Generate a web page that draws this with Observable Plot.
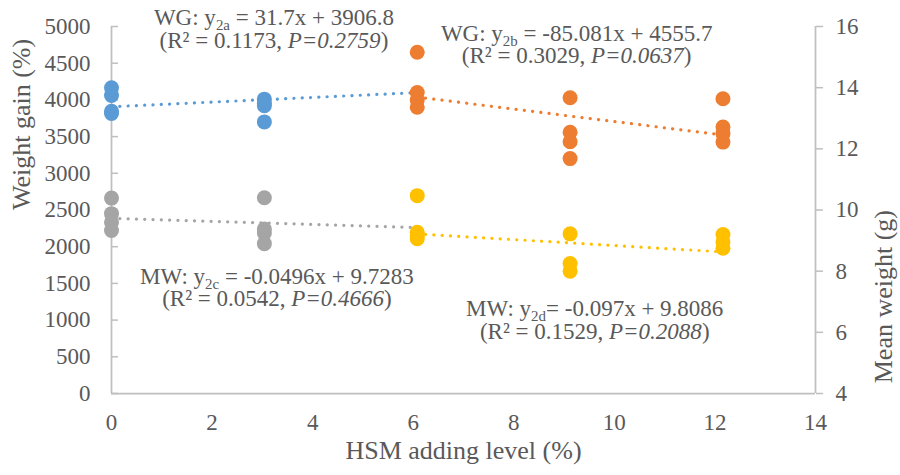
<!DOCTYPE html>
<html>
<head>
<meta charset="utf-8">
<script src="https://cdn.jsdelivr.net/npm/d3@7"></script>
<script src="https://cdn.jsdelivr.net/npm/@observablehq/plot@0.6"></script>
<style>
  html, body { margin: 0; padding: 0; background: #ffffff; }
  #chart svg text { white-space: pre; }
</style>
</head>
<body>
<div id="chart"></div>
<script>
// ---------- data ----------
const levels = [0, 3.04, 6.08, 9.12, 12.16];            // HSM adding level (%)
const seriesNames = ["WG a", "WG b", "MW c", "MW d"];
const seriesColors = ["#5B9BD5", "#ED7D31", "#A5A5A5", "#FFC000"];

// Weight gain (%) replicates
const wgA = [[4165, 4060, 3845, 3815], [4010, 3950, 3920, 3700]];                       // levels 0, 3
const wgB = [[4650, 4100, 4000, 3900], [4030, 3560, 3430, 3200], [4015, 3630, 3540, 3425]]; // levels 6, 9, 12
// Mean weight (g) replicates
const mwC = [[10.39, 9.88, 9.6, 9.33], [10.4, 9.38, 9.25, 8.9]];                        // levels 0, 3
const mwD = [[10.47, 9.27, 9.15, 9.06], [9.22, 8.25, 8.0], [9.2, 8.95, 8.75]];          // levels 6, 9, 12

// regression equations
const slopes = [31.7, -85.081, -0.0496, -0.097];
const intercepts = [3906.8, 4555.7, 9.7283, 9.8086];
const subs = ["2a", "2b", "2c", "2d"];
const heads = ["WG", "WG", "MW", "MW"];
const eqTexts = [" = 31.7x + 3906.8", " = -85.081x + 4555.7", " = -0.0496x + 9.7283", "= -0.097x + 9.8086"];
const r2Texts = ["0.1173", "0.3029", "0.0542", "0.1529"];
const pTexts = ["0.2759", "0.0637", "0.4666", "0.2088"];

// axes
const xTicks = [0, 2, 4, 6, 8, 10, 12, 14];
const wgTicks = [0, 500, 1000, 1500, 2000, 2500, 3000, 3500, 4000, 4500, 5000];
const mwTicks = [4, 6, 8, 10, 12, 14, 16];

// ---------- layout ----------
const W = 900, H = 475, mL = 111, mR = 85, mT = 26, mB = 82;
const innerW = W - mL - mR;
const axisColor = "#BFBFBF";
const textColor = "#595959";
const font = "'Liberation Serif', 'Times New Roman', serif";
// annotation anchors (x in %, y in WG units; baseline of first line)
const noteAnchors = [[3.24, 5010], [9.26, 4800], [3.30, 1490], [9.62, 1045]];
const noteLineGap = 22.5;

// secondary axis mapping: MW 4..16 <-> WG 0..5000
const mwToWg = m => (m - 4) * 5000 / 12;
const wgToMw = w => 4 + w * 12 / 5000;

// ---------- build tables ----------
const points = [];
wgA.forEach((vals, i) => vals.forEach(v => points.push({s: seriesNames[0], x: levels[i], y: v})));
wgB.forEach((vals, i) => vals.forEach(v => points.push({s: seriesNames[1], x: levels[i + 2], y: v})));
mwC.forEach((vals, i) => vals.forEach(v => points.push({s: seriesNames[2], x: levels[i], y: mwToWg(v)})));
mwD.forEach((vals, i) => vals.forEach(v => points.push({s: seriesNames[3], x: levels[i + 2], y: mwToWg(v)})));

const spans = [[levels[0], levels[2]], [levels[2], levels[4]], [levels[0], levels[2]], [levels[2], levels[4]]];
const trend = [];
seriesNames.forEach((s, i) => {
  spans[i].forEach(x => {
    const v = intercepts[i] + slopes[i] * x;
    trend.push({s, x, y: i < 2 ? v : mwToWg(v)});
  });
});

// ---------- plot ----------
const chart = Plot.plot({
  width: W, height: H,
  marginLeft: mL, marginRight: mR, marginTop: mT, marginBottom: mB,
  style: {fontFamily: font, fontSize: "23px", color: textColor, background: "#ffffff"},
  x: {domain: [0, 14]},
  y: {domain: [0, 5000]},
  color: {domain: seriesNames, range: seriesColors},
  marks: [
    Plot.ruleX([0, 14], {stroke: axisColor, strokeWidth: 1.75}),
    Plot.ruleY([0], {stroke: axisColor, strokeWidth: 1.75}),
    Plot.tickY(wgTicks, {y: d => d, stroke: axisColor, strokeWidth: 1.5, insetRight: innerW - 7}),
    Plot.axisX({ticks: xTicks, tickSize: 0, tickPadding: 20, label: null, tickFormat: d => String(d)}),
    Plot.axisY({anchor: "left", ticks: wgTicks, tickSize: 0, tickPadding: 21, label: null, tickFormat: d => String(d)}),
    Plot.axisY({anchor: "right", ticks: mwTicks.map(mwToWg), tickSize: 7, tickPadding: 13, label: null,
      stroke: axisColor, strokeWidth: 1.5, fill: textColor, tickFormat: v => String(Math.round(wgToMw(v)))}),
    Plot.text(["Weight gain (%)"], {text: d => d, frameAnchor: "left", dx: -90, rotate: -90, fontSize: 26, fill: textColor}),
    Plot.text(["Mean weight (g)"], {text: d => d, frameAnchor: "right", dx: 68, rotate: -90, fontSize: 26, fill: textColor}),
    Plot.text(["HSM adding level (%)"], {text: d => d, frameAnchor: "bottom", dy: 65, fontSize: 26, fill: textColor}),
    Plot.line(trend, {x: "x", y: "y", z: "s", stroke: "s", strokeWidth: 3.2,
      strokeDasharray: "0.1 8.2", strokeLinecap: "round"}),
    Plot.dot(points, {x: "x", y: "y", fill: "s", r: 7.5})
  ]
});

// ---------- equation annotations ----------
const sx = chart.scale("x"), sy = chart.scale("y");
const ann = d3.select(chart).append("g")
  .attr("fill", textColor)
  .attr("font-family", font)
  .attr("font-size", 23)
  .attr("text-anchor", "middle");
seriesNames.forEach((s, i) => {
  const px = sx.apply(noteAnchors[i][0]);
  const py = sy.apply(noteAnchors[i][1]);
  const t1 = ann.append("text").attr("x", px).attr("y", py).style("white-space", "pre");
  t1.append("tspan").text(heads[i] + ": y");
  t1.append("tspan").attr("font-size", "0.65em").attr("dy", 5).text(subs[i]);
  t1.append("tspan").attr("dy", -5).text(eqTexts[i]);
  const t2 = ann.append("text").attr("x", px).attr("y", py + noteLineGap).style("white-space", "pre");
  t2.append("tspan").text("(R\u00B2 = " + r2Texts[i] + ", ");
  t2.append("tspan").attr("font-style", "italic").text("P=" + pTexts[i]);
  t2.append("tspan").text(")");
});

document.getElementById("chart").appendChild(chart);
</script>
</body>
</html>
